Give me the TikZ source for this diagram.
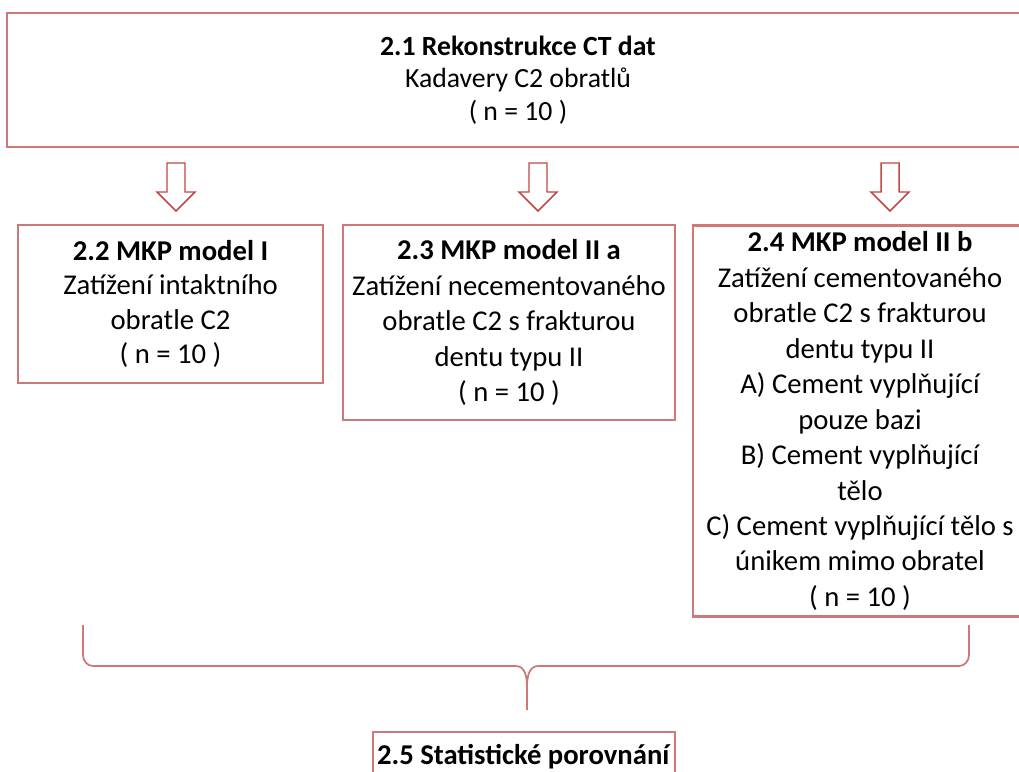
\documentclass[tikz,border=0pt]{standalone}
\usepackage{fontspec}
\setmainfont{Carlito}
\definecolor{boxred}{RGB}{206,120,120}
\definecolor{arrred}{RGB}{192,72,70}
\tikzset{
  box/.style={draw=boxred, line width=1.6pt, fill=white, align=center, inner sep=0pt,
    font=\fontsize{21.5}{26.6}\selectfont},
  hollowarrow/.pic={\draw[arrred, line width=1.1pt, fill=white, line join=miter]
    (-9,0) -- (-9,29) -- (-19,29) -- (0,48) -- (19,29) -- (9,29) -- (9,0) -- cycle;},
  brace/.style={draw=boxred, line width=1.3pt}
}
\begin{document}
\begin{tikzpicture}[x=0.75pt, y=-0.75pt]
\useasboundingbox (0,0) rectangle (1019,771);
\fill[white] (0,0) rectangle (1019,771);

\node[box, minimum width=1022*0.75pt, minimum height=134*0.75pt,
  font=\fontsize{20.8}{24.5}\selectfont] (b1) at (518,80)
  {\textbf{2.1 Rekonstrukce CT dat}\\Kadavery C2 obratlů\\( n = 10 )};

\node[box, minimum width=305*0.75pt, minimum height=158*0.75pt,
  font=\fontsize{21.5}{25.8}\selectfont] (b2) at (170.5,304)
  {\textbf{2.2 MKP model I}\\Zatížení intaktního\\obratle C2\\( n = 10 )};

\node[box, minimum width=332*0.75pt, minimum height=195*0.75pt] (b3) at (509,322.5)
  {\textbf{2.3 MKP model II a}\\Zatížení necementovaného\\obratle C2 s frakturou\\dentu typu II\\( n = 10 )};

\node[box, minimum width=334*0.75pt, minimum height=391*0.75pt] (b4) at (860,421)
  {\textbf{2.4 MKP model II b}\\Zatížení cementovaného\\obratle C2 s frakturou\\dentu typu II\\A) Cement vyplňující\\pouze bazi\\B) Cement vyplňující\\tělo\\C) Cement vyplňující tělo s\\únikem mimo obratel\\( n = 10 )};

\node[box, minimum width=302*0.75pt, minimum height=50*0.75pt] (b5) at (524,757)
  {\textbf{2.5 Statistické porovnání}};

\pic (a1) at (176,163) {hollowarrow};
\pic (a2) at (538,163) {hollowarrow};
\pic (a3) at (890,163) {hollowarrow};

\coordinate (bl) at (83,625);
\coordinate (br) at (969,625);
\coordinate (bt) at (527,710);
\draw[brace] (bl) -- (83,655) to[out=-90,in=180] (93,666) -- (516,666)
  to[out=0,in=90] (527,686) -- (bt);
\draw[brace] (br) -- (969,655) to[out=-90,in=0] (959,666) -- (538,666)
  to[out=180,in=90] (527,686);
\end{tikzpicture}
\end{document}
